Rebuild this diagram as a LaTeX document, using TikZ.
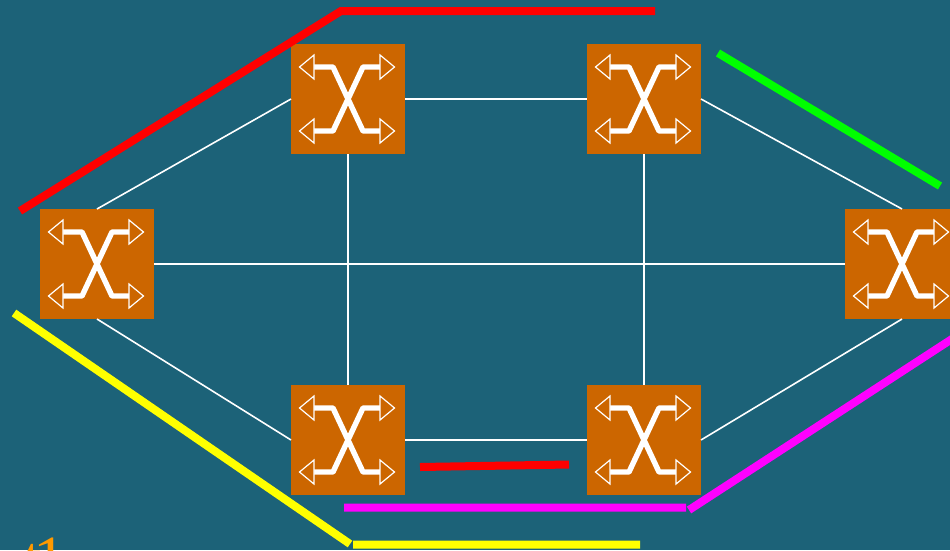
\documentclass[tikz,border=0pt]{standalone}
\usepackage{fontspec}
\setmainfont{Liberation Serif}
\definecolor{bgteal}{HTML}{1C6278}
\definecolor{boxorange}{HTML}{CC6600}
\definecolor{labelorange}{HTML}{FF9900}
\definecolor{routered}{HTML}{FF0000}
\definecolor{routegreen}{HTML}{00FF00}
\definecolor{routeyellow}{HTML}{FFFF00}
\definecolor{routemagenta}{HTML}{FF00FF}
\newcommand{\switchicon}{%
  \draw[white, line width=5.4pt, line join=round]
        (-34pt, 32pt) -- (-15pt, 32pt) -- (15pt, -32pt) -- (32pt, -32pt)
        (-34pt, -32pt) -- (-15pt, -32pt) -- (15pt, 32pt) -- (32pt, 32pt);
  \draw[white, line width=1.2pt, fill=boxorange]
        (-34pt, 44pt) -- (-48.5pt, 32pt) -- (-34pt, 20pt) -- cycle
        (-34pt, -20pt) -- (-48.5pt, -32pt) -- (-34pt, -44pt) -- cycle
        (32pt, 44pt) -- (46.5pt, 32pt) -- (32pt, 20pt) -- cycle
        (32pt, -20pt) -- (46.5pt, -32pt) -- (32pt, -44pt) -- cycle;
}
\tikzset{
  switchbox/.style={rectangle, fill=boxorange, minimum width=114pt, minimum height=110pt,
    inner sep=0pt, outer sep=0pt,
    path picture={\begin{scope}[shift={(path picture bounding box.center)}]\switchicon\end{scope}}},
  link/.style={white, line width=1.6pt},
  route/.style={line width=8pt}
}
\begin{document}
\begin{tikzpicture}[x=1pt, y=-1pt]
  \path[use as bounding box, clip] (0, 0) rectangle (950, 550);
  \fill[bgteal] (0, 0) rectangle (950, 550);
  \draw[link] (348, 99) -- (348, 440)
              (644, 99) -- (644, 440)
              (97, 264) -- (902, 264);
  \node[switchbox] (nw) at (348, 99) {};
  \node[switchbox] (ne) at (644, 99) {};
  \node[switchbox] (wt) at (97, 264) {};
  \node[switchbox] (et) at (902, 264) {};
  \node[switchbox] (sw) at (348, 440) {};
  \node[switchbox] (se) at (644, 440) {};
  \draw[link] (wt.north) edge (nw.west)
              (nw.east) edge (ne.west)
              (ne.east) edge (et.north)
              (wt.south) edge (sw.west)
              (sw.east) edge (se.west)
              (se.east) edge (et.south);
  \coordinate (ra) at (20, 211);
  \coordinate (rb) at (341, 11);
  \coordinate (rc) at (655, 11);
  \coordinate (rd) at (420, 467);
  \coordinate (re) at (569, 464.5);
  \coordinate (ga) at (718, 53);
  \coordinate (gb) at (940, 186);
  \coordinate (ya) at (14, 313);
  \coordinate (yb) at (350, 544);
  \coordinate (yc) at (353, 544.5);
  \coordinate (yd) at (640, 544.5);
  \coordinate (ma) at (344, 507.5);
  \coordinate (mb) at (686, 507.5);
  \coordinate (mc) at (689, 510);
  \coordinate (md) at (955, 337);
  \draw[route, routered] (ra) -- (rb) -- (rc)
                    (rd) -- (re);
  \draw[route, routegreen] (ga) -- (gb);
  \draw[route, routeyellow] (ya) -- (yb)
                       (yc) -- (yd);
  \draw[route, routemagenta] (ma) -- (mb)
                        (mc) -- (md);
  \node[anchor=base west, inner sep=0pt, text=labelorange, font=\fontsize{66}{66}\selectfont] (lbl) at (23, 581.5) {t\kern-8pt 1};
\end{tikzpicture}
\end{document}
